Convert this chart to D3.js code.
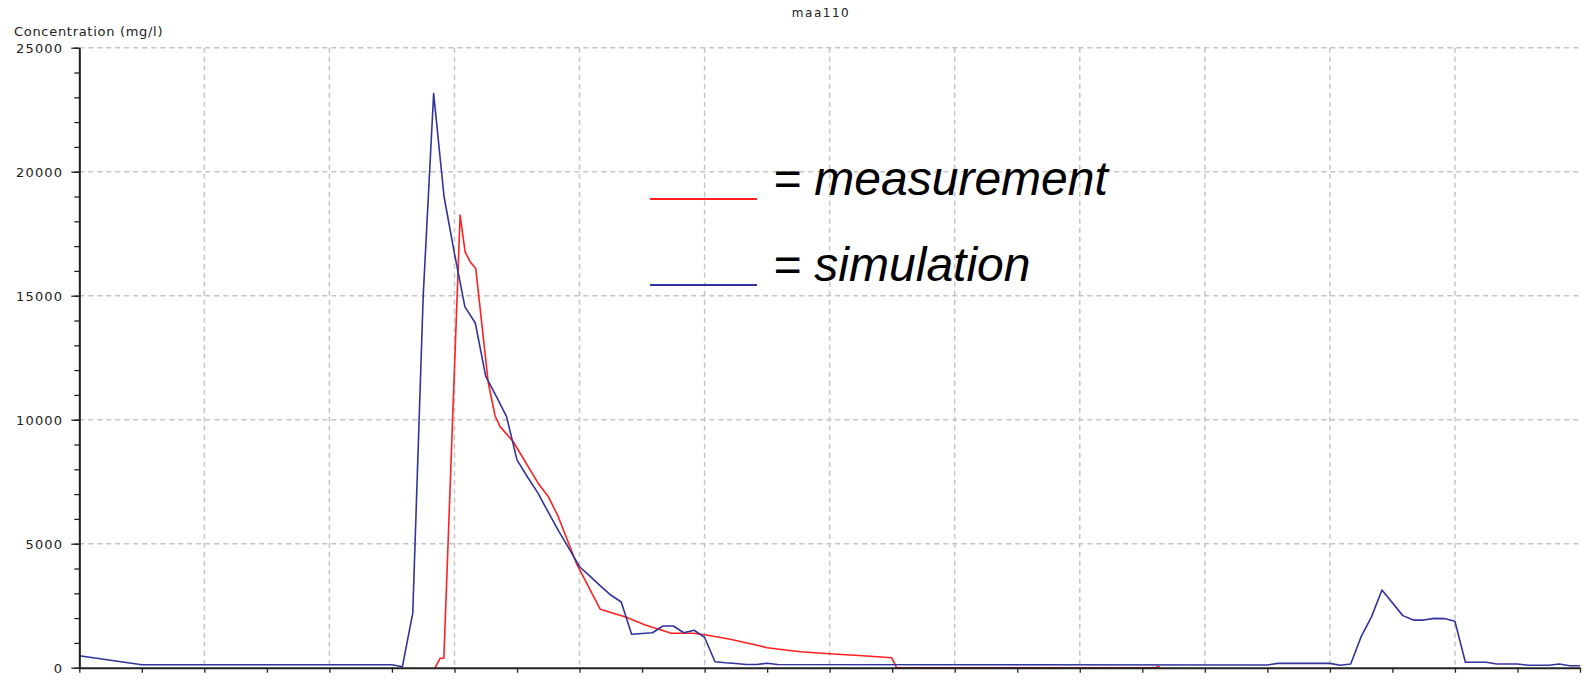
<!DOCTYPE html>
<html>
<head>
<meta charset="utf-8">
<script src="https://cdn.jsdelivr.net/npm/d3@7"></script>
<style>
  body { margin: 0; background: #fff; }
  .small { font-family: "DejaVu Sans", Verdana, sans-serif; font-size: 13px; fill: #222; }
  .legend { font-family: "Liberation Sans", Arial, sans-serif; font-size: 48px; font-style: italic; fill: #000; }
</style>
</head>
<body>
<svg class="chart"></svg>
<script>
// chart values (hours / mg/l)
var title = "maa110";
var yLabel = "Concentration (mg/l)";
var yMajorTicks = [0, 5000, 10000, 15000, 20000, 25000];
var xGridHours = [2, 4, 6, 8, 10, 12, 14, 16, 18, 20, 22];

var simHours = [0, 1, 5.0, 5.167, 5.333, 5.5, 5.667, 5.833, 6.0, 6.167, 6.333, 6.5, 6.667, 6.833,
  7.0, 7.167, 7.333, 7.5, 7.667, 7.833, 8.0, 8.167, 8.333, 8.5, 8.667, 8.833, 9.0, 9.167, 9.333,
  9.5, 9.667, 9.833, 10.0, 10.167, 10.333, 10.5, 10.667, 10.833, 11.0, 11.167, 19.0, 19.167,
  20.0, 20.167, 20.333, 20.5, 20.667, 20.833, 21.167, 21.333, 21.5, 21.667, 21.833, 22.0, 22.167,
  22.5, 22.667, 23.0, 23.167, 23.5, 23.667, 23.833, 24.0];
var simConc = [480, 120, 120, 40, 2200, 15000, 23150, 19000, 16700, 14550, 13900, 11750, 10950, 10120,
  8380, 7690, 7050, 6270, 5510, 4800, 4070, 3690, 3300, 2930, 2650, 1350, 1380, 1410, 1680,
  1680, 1410, 1510, 1220, 240, 200, 170, 130, 130, 180, 130, 110, 175,
  175, 100, 150, 1250, 2060, 3130, 2100, 1920, 1920, 1990, 1980, 1870, 220,
  220, 150, 150, 100, 100, 150, 80, 80];

var measHours = [5.69, 5.77, 5.83, 6.09, 6.17, 6.25, 6.34, 6.54, 6.65, 6.73, 6.94, 7.34, 7.5, 7.66,
  7.95, 8.33, 8.75, 9.05, 9.47, 9.82, 10.03, 10.41, 10.89, 11.0, 11.53, 12.06, 12.59, 12.99, 13.07,
  17.22, 17.25, 17.28];
var measConc = [0, 380, 380, 18250, 16770, 16370, 16100, 11500, 10150, 9720, 9110, 7430, 6900, 6090,
  4210, 2360, 2030, 1720, 1390, 1390, 1320, 1145, 875, 806, 645, 552, 472, 403, 0,
  0, 60, 0];

var legendNames = ["= measurement", "= simulation"];
var legendColors = ["#ff2020", "#33339c"];

var simData = simHours.map(function(h, i) { return [h, simConc[i]]; });
var measData = measHours.map(function(h, i) { return [h, measConc[i]]; });

var svg = d3.select(".chart")
    .attr("width", 1585)
    .attr("height", 685);

var x = d3.scaleLinear().domain([0, 24]).range([79.3, 1580]);
var y = d3.scaleLinear().domain([0, 25000]).range([667.7, 47.7]);

// grid
svg.append("g").selectAll("line")
    .data(yMajorTicks.slice(1))
  .enter().append("line")
    .attr("x1", x(0)).attr("x2", x(24))
    .attr("y1", d => y(d)).attr("y2", d => y(d))
    .attr("stroke", "#c4c4c4")
    .attr("stroke-width", 1.5)
    .attr("stroke-dasharray", "5,4");

svg.append("g").selectAll("line")
    .data(xGridHours)
  .enter().append("line")
    .attr("x1", d => x(d)).attr("x2", d => x(d))
    .attr("y1", y(25000)).attr("y2", y(0))
    .attr("stroke", "#c4c4c4")
    .attr("stroke-width", 1.5)
    .attr("stroke-dasharray", "5,4");

// title + y label
svg.append("text")
    .attr("class", "small")
    .attr("x", 821)
    .attr("y", 17)
    .attr("text-anchor", "middle")
    .style("font-size", "12px")
    .style("letter-spacing", "1.5px")
    .text(title);

svg.append("text")
    .attr("class", "small")
    .attr("x", 14)
    .attr("y", 36)
    .style("letter-spacing", "0.7px")
    .text(yLabel);

// the series
var line = d3.line()
    .x(d => x(d[0]))
    .y(d => y(d[1]));

svg.append("path")
    .datum(measData)
    .attr("d", line)
    .attr("fill", "none")
    .attr("stroke", legendColors[0])
    .attr("stroke-width", 1.6)
    .attr("stroke-linejoin", "round");

svg.append("path")
    .datum(simData)
    .attr("d", line)
    .attr("fill", "none")
    .attr("stroke", legendColors[1])
    .attr("stroke-width", 1.6)
    .attr("stroke-linejoin", "round");

// axes (drawn over the lines)
svg.append("g")
    .attr("transform", "translate(" + x(0) + ",0)")
    .call(d3.axisLeft(y).tickValues(d3.range(0, 25001, 1000)).tickSize(5).tickSizeOuter(0).tickFormat(""))
    .call(g => g.selectAll("line").attr("stroke", "#222").attr("stroke-width", 1.3));

var yAxis = svg.append("g")
    .attr("transform", "translate(" + x(0) + ",0)")
    .call(d3.axisLeft(y).tickValues(yMajorTicks).tickSize(8).tickPadding(8).tickSizeOuter(0).tickFormat(d3.format("d")));
yAxis.select(".domain").attr("stroke", "#222").attr("stroke-width", 2);
yAxis.selectAll("line").attr("stroke", "#222").attr("stroke-width", 1.3);
yAxis.selectAll("text")
    .attr("class", "small")
    .attr("dy", "0.36em")
    .style("letter-spacing", "1.2px");

var xAxis = svg.append("g")
    .attr("transform", "translate(0," + y(0) + ")")
    .call(d3.axisBottom(x).tickValues(d3.range(0, 25)).tickSize(5).tickSizeOuter(0).tickFormat(""));
xAxis.select(".domain").attr("stroke", "#222").attr("stroke-width", 2);
xAxis.selectAll("line").attr("stroke", "#222").attr("stroke-width", 1.3);

// legend
var legend = svg.append("g").selectAll("g")
    .data(legendNames)
  .enter().append("g")
    .attr("transform", (d, i) => "translate(650," + (199 + i * 86) + ")");

legend.append("line")
    .attr("x1", 0).attr("x2", 107)
    .attr("y1", 0).attr("y2", 0)
    .attr("stroke", (d, i) => legendColors[i])
    .attr("stroke-width", 2);

legend.append("text")
    .attr("class", "legend")
    .attr("x", 123)
    .attr("y", -4)
    .text(d => d);
</script>
</body>
</html>
